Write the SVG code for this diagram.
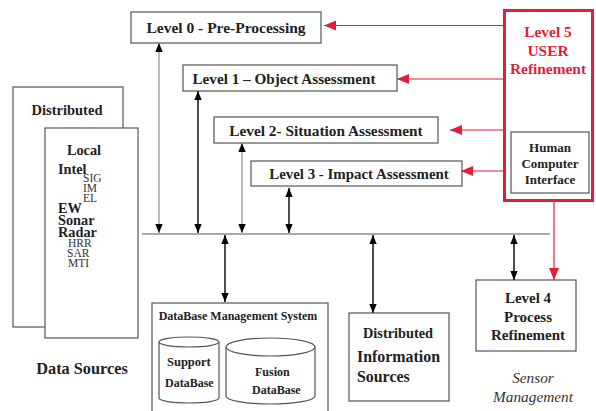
<svg xmlns="http://www.w3.org/2000/svg" width="596" height="411" viewBox="0 0 596 411">
<style>
.box{fill:#fff;stroke:#555;stroke-width:1.2}
.t{font-family:"Liberation Serif","Times New Roman",serif;font-weight:bold;fill:#222}
.r{font-family:"Liberation Serif","Times New Roman",serif;font-weight:normal;fill:#333}
.red{fill:#e31e3a}
.gl{stroke:#999;stroke-width:1.3;fill:none}
.bl{stroke:#111;stroke-width:1.5;fill:none}
.rl{stroke:#e31e3a;stroke-width:1.2;fill:none}
</style>
<defs>
<marker id="ab" markerUnits="userSpaceOnUse" markerWidth="9" markerHeight="11" viewBox="0 0 11 9" refX="11" refY="4.5" orient="auto-start-reverse"><path d="M0,0 L11,4.5 L0,9 z" fill="#000"/></marker>
<marker id="ar" markerUnits="userSpaceOnUse" markerWidth="12" markerHeight="12" viewBox="0 0 12 10" refX="12" refY="5" orient="auto-start-reverse"><path d="M0,0 L12,5 L0,10 z" fill="#e31e3a"/></marker>
</defs>

<g id="data-sources">
<rect class="box" x="13" y="87" width="110" height="240"/>
<text class="t" x="67" y="115" font-size="14.5" text-anchor="middle">Distributed</text>
<rect class="box" x="45" y="128" width="93" height="210"/>
<text class="t" x="84" y="155" font-size="14.3" text-anchor="middle">Local</text>
<text class="t" x="58" y="174" font-size="14.3">Intel</text>
<text class="r" x="83" y="182" font-size="11.5">SIG</text>
<text class="r" x="83" y="192" font-size="11.5">IM</text>
<text class="r" x="83" y="202" font-size="11.5">EL</text>
<text class="t" x="58" y="213" font-size="14.3">EW</text>
<text class="t" x="58" y="225" font-size="14.3">Sonar</text>
<text class="t" x="58" y="237" font-size="14.3">Radar</text>
<text class="r" x="68" y="247" font-size="11.5">HRR</text>
<text class="r" x="67" y="257" font-size="11.5">SAR</text>
<text class="r" x="68" y="267" font-size="11.5">MTI</text>
<text class="t" x="82" y="374" font-size="16.3" text-anchor="middle">Data Sources</text>
</g>

<g id="level0">
<rect class="box" x="131" y="12" width="190" height="31"/>
<text class="t" x="226" y="33" font-size="15.5" text-anchor="middle">Level 0 - Pre-Processing</text>
</g>
<g id="level1">
<rect class="box" x="183" y="65" width="214" height="26"/>
<text class="t" x="284" y="83.5" font-size="15.2" text-anchor="middle">Level 1 – Object Assessment</text>
</g>
<g id="level2">
<rect class="box" x="214" y="117" width="224" height="26"/>
<text class="t" x="326" y="135.5" font-size="15.3" text-anchor="middle">Level 2- Situation Assessment</text>
</g>
<g id="level3">
<rect class="box" x="251" y="161" width="211" height="25"/>
<text class="t" x="359" y="179" font-size="14.9" text-anchor="middle">Level 3 - Impact Assessment</text>
</g>

<g id="level5">
<rect x="504.5" y="10.5" width="88" height="190" fill="#fff" stroke="#e31e3a" stroke-width="3"/>
<text class="t red" x="548" y="37" font-size="15.4" text-anchor="middle">Level 5</text>
<text class="t red" x="548" y="56" font-size="15.4" text-anchor="middle">USER</text>
<text class="t red" x="548" y="74" font-size="15.4" text-anchor="middle">Refinement</text>
</g>
<g id="hci">
<rect class="box" x="511" y="132" width="78" height="61"/>
<text class="t" x="550" y="152" font-size="13" text-anchor="middle">Human</text>
<text class="t" x="550" y="168" font-size="13" text-anchor="middle">Computer</text>
<text class="t" x="550" y="184" font-size="13" text-anchor="middle">Interface</text>
</g>

<g id="dbms">
<rect class="box" x="152" y="303" width="176" height="115"/>
<text class="t" x="238" y="320" font-size="12" text-anchor="middle">DataBase Management System</text>
<path d="M159,342 L159,398 A30,5 0 0 0 219,398 L219,342" class="box"/>
<ellipse cx="189" cy="342" rx="30" ry="5" class="box"/>
<text class="t" x="167" y="366" font-size="12.5">Support</text>
<text class="t" x="165" y="387" font-size="12">DataBase</text>
<path d="M226,347 L226,396 A44.5,8 0 0 0 315,396 L315,347" class="box"/>
<ellipse cx="270.5" cy="347" rx="44.5" ry="9" class="box"/>
<text class="t" x="255" y="376" font-size="12">Fusion</text>
<text class="t" x="252" y="394" font-size="12">DataBase</text>
</g>

<g id="dis">
<rect class="box" x="349" y="313" width="100" height="88"/>
<text class="t" x="398" y="338" font-size="14.3" text-anchor="middle">Distributed</text>
<text class="t" x="357" y="362" font-size="15.9">Information</text>
<text class="t" x="357" y="382" font-size="15.9">Sources</text>
</g>

<g id="level4">
<rect class="box" x="476" y="280" width="100" height="71"/>
<text class="t" x="528" y="303" font-size="15" text-anchor="middle">Level 4</text>
<text class="t" x="528" y="322" font-size="15" text-anchor="middle">Process</text>
<text class="t" x="528" y="340" font-size="15" text-anchor="middle">Refinement</text>
</g>
<g id="sensor">
<text class="r" x="533" y="383" font-size="15.3" font-style="italic" text-anchor="middle">Sensor</text>
<text class="r" x="533" y="402" font-size="15.3" font-style="italic" text-anchor="middle">Management</text>
</g>

<g id="connectors">
<line x1="142" y1="234" x2="550" y2="234" stroke="#555" stroke-width="1.2"/>
<line class="gl" x1="159" y1="43" x2="159" y2="233" marker-start="url(#ab)" marker-end="url(#ab)"/>
<line class="bl" x1="198" y1="91" x2="198" y2="233" stroke-width="1.2" marker-start="url(#ab)" marker-end="url(#ab)"/>
<line class="gl" x1="242" y1="143" x2="242" y2="233" marker-start="url(#ab)" marker-end="url(#ab)"/>
<line class="bl" x1="289" y1="188" x2="289" y2="233" stroke-width="1.2" marker-start="url(#ab)" marker-end="url(#ab)"/>
<line class="bl" x1="225" y1="235" x2="225" y2="302" marker-start="url(#ab)" marker-end="url(#ab)"/>
<line class="bl" x1="373" y1="235" x2="373" y2="313" marker-start="url(#ab)" marker-end="url(#ab)"/>
<line class="bl" x1="514" y1="235" x2="514" y2="280" stroke-width="1" marker-start="url(#ab)" marker-end="url(#ab)"/>
<line class="rl" x1="503" y1="25.5" x2="324" y2="25.5" marker-end="url(#ar)"/>
<line class="rl" x1="503" y1="79" x2="397" y2="79" marker-end="url(#ar)"/>
<line class="rl" x1="503" y1="130" x2="450" y2="130" marker-end="url(#ar)"/>
<line class="rl" x1="503" y1="171" x2="461" y2="171" marker-end="url(#ar)"/>
<line class="rl" x1="554" y1="202" x2="554" y2="280" marker-end="url(#ar)"/>
</g>
</svg>
